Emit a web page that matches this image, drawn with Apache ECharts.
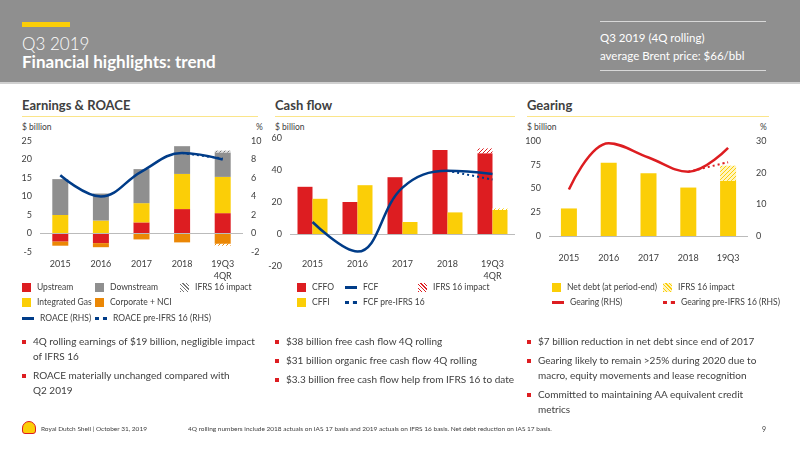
<!DOCTYPE html>
<html><head><meta charset="utf-8">
<script src="https://cdn.jsdelivr.net/npm/echarts@6/dist/echarts.min.js"></script>
<style>
body{margin:0;width:800px;height:450px;overflow:hidden;font-family:Lato,"Noto Sans",sans-serif;color:#404040;background:#fff}
#c{position:absolute;left:0;top:0;width:800px;height:450px}
.a{position:absolute;white-space:nowrap}
.hdr{position:absolute;left:0;top:0;width:800px;height:82px;background:#8f8f8f;border-bottom:2px solid #d0d0d0}
.st{font-weight:700;font-size:13px;color:#404040}
.ul{position:absolute;height:1px;background:#fbe58a}
.lg{font-size:8.5px;color:#404040;display:flex;align-items:center}
.sw{display:inline-block;width:9px;height:9px;margin-right:6px}
.ln{display:inline-block;width:12px;height:0;border-top:3px solid;margin-right:6px}
.dl{display:inline-block;width:12px;height:0;border-top:3px dotted;margin-right:6px}
.bl{position:absolute;font-size:10px;line-height:15px;white-space:normal}
.bl p{margin:0 0 4px 0;padding-left:11px;position:relative}
.bl p:before{content:"";position:absolute;left:0;top:6px;width:4px;height:4px;background:#dd1d21}
.unit{font-size:8.5px}
</style></head><body>
<div class="hdr"></div>
<div class="a" style="left:22px;top:22px;width:48px;height:5px;background:#fbce07"></div>
<div class="a" style="left:22px;top:33px;font-size:17px;color:#fff;font-weight:300">Q3 2019</div>
<div class="a" style="left:22px;top:51px;font-size:17px;color:#fff;font-weight:700">Financial highlights: trend</div>
<div class="a" style="left:600px;top:21px;width:166px;height:1px;background:#d8d8d8"></div>
<div class="a" style="left:600px;top:70px;width:166px;height:1px;background:#d8d8d8"></div>
<div class="a" style="left:600px;top:29px;font-size:11.5px;color:#fff;line-height:18px">Q3 2019 (4Q rolling)<br>average Brent price: $66/bbl</div>

<div class="a st" style="left:22px;top:97px">Earnings &amp; ROACE</div>
<div class="a st" style="left:275px;top:97px">Cash flow</div>
<div class="a st" style="left:527px;top:97px">Gearing</div>
<div class="ul" style="left:22px;top:116px;width:236px"></div>
<div class="ul" style="left:275px;top:116px;width:240px"></div>
<div class="ul" style="left:527px;top:116px;width:242px"></div>
<div class="a unit" style="left:22px;top:122px">$ billion</div>
<div class="a unit" style="left:256px;top:122px">%</div>
<div class="a unit" style="left:275px;top:122px">$ billion</div>
<div class="a unit" style="left:527px;top:122px">$ billion</div>
<div class="a unit" style="left:760px;top:122px">%</div>

<div id="c"></div>

<div class="a lg" style="left:22px;top:282px"><span class="sw" style="background:#dd1d21"></span>Upstream</div>
<div class="a lg" style="left:95px;top:282px"><span class="sw" style="background:#8f8f8f"></span>Downstream</div>
<div class="a lg" style="left:180px;top:282px"><span class="sw" style="background:repeating-linear-gradient(45deg,#777 0 1px,#fff 1px 2.5px)"></span>IFRS 16 impact</div>
<div class="a lg" style="left:22px;top:297px"><span class="sw" style="background:#fbce07"></span>Integrated Gas</div>
<div class="a lg" style="left:95px;top:297px"><span class="sw" style="background:#eb8705"></span>Corporate + NCI</div>
<div class="a lg" style="left:22px;top:313px"><span class="ln" style="border-color:#003c88"></span>ROACE (RHS)</div>
<div class="a lg" style="left:95px;top:313px"><span class="dl" style="border-color:#003c88"></span>ROACE pre-IFRS 16 (RHS)</div>

<div class="a lg" style="left:297px;top:282px"><span class="sw" style="background:#dd1d21"></span>CFFO</div>
<div class="a lg" style="left:345px;top:282px"><span class="ln" style="border-color:#003c88"></span>FCF</div>
<div class="a lg" style="left:418px;top:282px"><span class="sw" style="background:repeating-linear-gradient(45deg,#dd1d21 0 1px,#fff 1px 2.5px)"></span>IFRS 16 impact</div>
<div class="a lg" style="left:297px;top:297px"><span class="sw" style="background:#fbce07"></span>CFFI</div>
<div class="a lg" style="left:345px;top:297px"><span class="dl" style="border-color:#003c88"></span>FCF pre-IFRS 16</div>

<div class="a lg" style="left:552px;top:282px"><span class="sw" style="background:#fbce07"></span>Net debt (at period-end)</div>
<div class="a lg" style="left:663px;top:282px"><span class="sw" style="background:repeating-linear-gradient(45deg,#fbce07 0 1px,#fff4c0 1px 2.5px)"></span>IFRS 16 impact</div>
<div class="a lg" style="left:552px;top:297px"><span class="ln" style="border-color:#dd1d21"></span>Gearing (RHS)</div>
<div class="a lg" style="left:663px;top:297px"><span class="dl" style="border-color:#dd1d21"></span>Gearing pre-IFRS 16 (RHS)</div>

<div class="bl" style="left:22px;top:334px;width:235px"><p>4Q rolling earnings of $19 billion, negligible impact of IFRS 16</p><p>ROACE materially unchanged compared with<br>Q2 2019</p></div>
<div class="bl" style="left:275px;top:334px;width:245px"><p>$38 billion free cash flow 4Q rolling</p><p>$31 billion organic free cash flow 4Q rolling</p><p>$3.3 billion free cash flow help from IFRS 16 to date</p></div>
<div class="bl" style="left:527px;top:334px;width:250px"><p>$7 billion reduction in net debt since end of 2017</p><p>Gearing likely to remain &gt;25% during 2020 due to macro, equity movements and lease recognition</p><p>Committed to maintaining AA equivalent credit metrics</p></div>

<div class="a" style="left:22px;top:421px;width:14px;height:13px;border-radius:7px 7px 3px 3px;background:#fbce07;border:1px solid #dd1d21;box-sizing:border-box"></div>
<div class="a" style="left:41px;top:425px;font-size:6.5px">Royal Dutch Shell | October 31, 2019</div>
<div class="a" style="left:188px;top:425px;font-size:6.5px">4Q rolling numbers include 2018 actuals on IAS 17 basis and 2019 actuals on IFRS 16 basis. Net debt reduction on IAS 17 basis.</div>
<div class="a" style="left:762px;top:425px;font-size:7px">9</div>

<script>
const cats1=['2015','2016','2017','2018','19Q3\n4QR'];
const upstream=[-2.2,-2.6,3.0,6.6,5.5];
const integratedGas=[5.0,3.5,5.2,9.5,9.8];
const downstream=[9.7,7.3,9.2,7.5,6.6];
const ifrsEarnTop=[0,0,0,0,0.5];
const corporate=[-1.1,-1.1,-1.6,-2.4,-2.8];
const ifrsEarnBottom=[0,0,0,0,-0.5];
const roace=[6.3,4.0,6.7,8.7,8.0];
const roacePre=[null,null,null,8.7,8.1];

const cats2=['2015','2016','2017','2018','19Q3\n4QR'];
const cffo=[29.5,20,35.5,52.5,50.5];
const cffoIfrs=[0,0,0,0,3];
const cffi=[22,30.5,7.5,13.5,15];
const cffiIfrs=[0,0,0,0,1];
const fcf=[7.5,-11,29,39.5,37.5];
const fcfPre=[null,null,null,39.5,34];

const cats3=['2015','2016','2017','2018','19Q3'];
const netDebt=[29,77,66,51,58];
const netDebtIfrs=[0,0,0,0,16];
const gearing=[14.7,29.3,24.8,20.3,27.8];
const gearingPre=[null,null,null,20.3,23.3];

function hatch(fg,bg){const c=document.createElement('canvas');c.width=c.height=4;const x=c.getContext('2d');x.fillStyle=bg;x.fillRect(0,0,4,4);x.strokeStyle=fg;x.lineWidth=1;x.beginPath();x.moveTo(0,4);x.lineTo(4,0);x.moveTo(-1,1);x.lineTo(1,-1);x.moveTo(3,5);x.lineTo(5,3);x.stroke();return {image:c,repeat:'repeat'};}
const RED='#dd1d21',GRAY='#8f8f8f',YEL='#fbce07',ORA='#eb8705',NAVY='#003c88',TXT='#404040';
const lab={color:TXT,fontSize:9,fontFamily:'Lato'};
function yax(gi,min,max,iv,pos,show){return {gridIndex:gi,type:'value',min,max,interval:iv,position:pos,splitLine:{show:false},axisLine:{show:false},axisTick:{show:false},axisLabel:Object.assign({show:show!==false,margin:8},lab)};}
function xax(gi,data,margin){return {gridIndex:gi,type:'category',data,axisLine:{show:false},axisTick:{show:false},axisLabel:Object.assign({margin,lineHeight:12},lab)};}
const zl={silent:true,symbol:'none',label:{show:false},lineStyle:{color:'#bbb',type:'solid',width:1},data:[{yAxis:0}]};
function bar(name,x,y,data,stack,color,w,extra){return Object.assign({name,type:'bar',xAxisIndex:x,yAxisIndex:y,data,stack,barWidth:w,itemStyle:{color},animation:false},extra||{});}
function line(data,x,y,color,dotted){return {type:'line',xAxisIndex:x,yAxisIndex:y,data,smooth:0.4,symbol:'none',lineStyle:{color,width:dotted?2:2.5,type:dotted?[2,3]:'solid'},z:5,animation:false,connectNulls:false};}

const chart=echarts.init(document.getElementById('c'));
chart.setOption({
 grid:[{left:40,top:141,width:203,height:111},{left:290,top:138,width:225,height:128},{left:549,top:141,width:199,height:95}],
 xAxis:[xax(0,cats1,6),xax(1,cats2,-8),xax(2,cats3,16)],
 yAxis:[yax(0,-5,25,5,'left'),yax(0,-2,10,2,'right'),yax(1,-20,60,20,'left'),yax(2,0,100,25,'left'),yax(2,0,30,10,'right')],
 series:[
  bar('Upstream',0,0,upstream,'e',RED,16,{markLine:zl}),
  bar('Integrated Gas',0,0,integratedGas,'e',YEL,16),
  bar('Downstream',0,0,downstream,'e',GRAY,16),
  bar('IFRS top',0,0,ifrsEarnTop,'e',hatch('#777','#ddd'),16),
  bar('Corporate',0,0,corporate,'e',ORA,16),
  bar('IFRS bottom',0,0,ifrsEarnBottom,'e',hatch(ORA,'#fff'),16),
  line(roace,0,1,NAVY,false),
  line(roacePre,0,1,NAVY,true),
  bar('CFFO',1,2,cffo,'a',RED,15,{barGap:'0%',markLine:zl}),
  bar('CFFO IFRS',1,2,cffoIfrs,'a',hatch(RED,'#fff'),15,{barGap:'0%'}),
  bar('CFFI',1,2,cffi,'b',YEL,15,{barGap:'0%'}),
  bar('CFFI IFRS',1,2,cffiIfrs,'b',hatch(YEL,'#fff'),15,{barGap:'0%'}),
  line(fcf,1,2,NAVY,false),
  line(fcfPre,1,2,NAVY,true),
  bar('Net debt',2,3,netDebt,'n',YEL,16,{markLine:zl}),
  bar('Net debt IFRS',2,3,netDebtIfrs,'n',hatch(YEL,'#fff4c0'),16),
  line(gearing,2,4,RED,false),
  line(gearingPre,2,4,RED,true)
 ]
});
</script>
</body></html>
